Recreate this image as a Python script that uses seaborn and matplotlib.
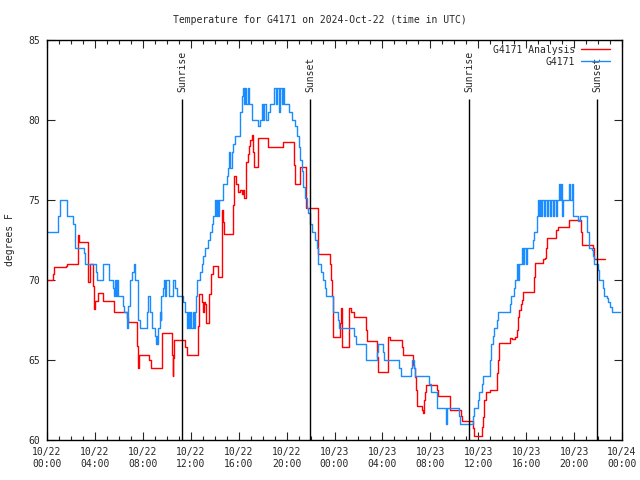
import numpy as np
import pandas as pd
import matplotlib
matplotlib.use('Agg')
import matplotlib.pyplot as plt
import seaborn as sns

# (hours since 10/22 00:00 UTC, degrees F) step points
obs_steps = [
    (0.0, 73), (0.95, 74), (1.05, 75), (1.65, 74), (2.2, 73.5), (2.3, 72.5), (2.35, 72), (3.05, 71.7),
    (3.15, 71), (4.06, 70.5), (4.2, 70), (4.7, 71), (5.15, 70), (5.54, 69.5), (5.62, 69), (5.7, 70),
    (5.8, 69), (5.85, 70), (5.9, 69), (6.37, 68.4), (6.45, 68), (6.68, 67), (6.75, 68.4), (6.93, 70),
    (7.12, 70.5), (7.29, 71), (7.38, 70), (7.57, 68.4), (7.62, 67.5), (7.73, 67),
    (8.32, 68), (8.45, 69), (8.6, 68), (8.74, 67), (9.02, 66.5), (9.1, 66), (9.15, 66.5), (9.2, 66),
    (9.29, 67), (9.43, 68), (9.48, 67.5), (9.52, 69), (9.65, 69.5), (9.77, 70), (9.85, 69), (9.9, 70),
    (10.21, 69), (10.55, 70), (10.68, 69.5), (10.82, 69), (11.33, 68.6), (11.52, 68), (11.66, 67),
    (11.75, 68), (11.85, 67), (11.95, 68), (12.05, 67), (12.16, 68), (12.25, 67), (12.36, 68), (12.42, 69),
    (12.49, 70), (12.77, 70.5), (12.91, 71), (13.05, 71.5), (13.2, 72), (13.47, 72.5), (13.6, 73),
    (13.74, 73.5), (13.88, 74), (14.0, 75), (14.08, 74), (14.16, 75), (14.25, 74), (14.35, 75),
    (14.72, 76), (15.0, 76.5), (15.14, 77), (15.2, 78), (15.28, 77), (15.42, 78), (15.55, 78.5),
    (15.69, 79), (16.11, 80.5), (16.25, 81.5), (16.35, 82), (16.45, 81), (16.55, 82), (16.65, 81),
    (16.75, 82), (16.85, 81), (17.08, 80), (17.58, 79.6), (17.78, 80), (17.92, 81), (18.05, 80),
    (18.15, 81), (18.3, 80), (18.47, 80.5), (18.61, 81), (18.97, 82), (19.1, 81), (19.2, 82),
    (19.35, 80.5), (19.45, 82), (19.6, 81), (19.7, 82), (19.8, 81), (20.17, 80.5), (20.45, 80),
    (20.67, 79.6), (20.87, 79), (21.0, 78.3), (21.12, 77.5), (21.26, 76.8), (21.4, 75.8), (21.54, 75.1),
    (21.68, 74.5), (21.82, 74.2), (21.96, 73.5), (22.1, 73), (22.37, 72.5), (22.5, 72), (22.65, 71),
    (22.85, 70.5), (23.0, 70), (23.2, 69.5), (23.29, 69),
    (23.84, 68), (24.32, 67.5), (24.4, 67), (25.63, 66.5), (25.79, 66), (26.63, 65), (27.57, 65.5),
    (27.66, 66), (28.07, 65.5), (28.16, 65), (29.41, 64.5), (29.52, 64), (30.36, 64.5), (30.44, 65),
    (30.63, 64.5), (30.72, 64), (31.92, 63.5), (32.03, 63), (32.53, 62.5), (32.58, 62), (33.28, 61),
    (33.36, 62), (34.42, 61.5), (34.47, 61),
    (35.59, 61.5), (35.67, 62), (36.0, 62.5), (36.09, 63), (36.28, 63.5), (36.37, 64), (36.98, 65),
    (37.06, 66), (37.26, 66.5), (37.34, 67), (37.53, 67.5), (37.62, 68), (38.65, 68.5), (38.73, 69),
    (39.01, 69.5), (39.07, 70), (39.2, 71), (39.29, 70), (39.4, 71), (39.68, 72), (39.76, 71),
    (39.85, 72), (39.96, 71), (40.04, 72), (40.6, 72.5), (40.68, 73), (40.88, 74), (40.96, 75),
    (41.05, 74), (41.15, 75), (41.25, 74), (41.35, 75), (41.45, 74), (41.6, 75), (41.75, 74),
    (41.85, 75), (42.0, 74), (42.1, 75), (42.2, 74), (42.3, 75), (42.45, 74), (42.55, 75), (42.7, 76),
    (42.8, 75), (42.9, 76), (43.0, 74), (43.1, 75), (43.6, 76), (43.7, 75), (43.8, 76), (43.93, 74),
    (44.35, 73.7), (44.49, 74), (45.1, 73), (45.27, 72), (45.46, 71.9), (45.6, 71.5), (45.69, 71),
    (45.97, 70.6), (46.1, 70), (46.44, 69.5), (46.52, 69), (46.72, 68.9), (46.86, 68.6), (47.0, 68.3),
    (47.14, 68), (47.8, 68),
]

ana_steps = [
    (0.0, 70), (0.53, 70.4), (0.61, 70.8), (1.56, 70.9), (1.64, 71), (2.56, 72.8), (2.7, 72.4),
    (3.4, 71), (3.45, 69.9), (3.55, 71), (3.87, 69.6), (3.95, 68.2), (4.0, 68.7), (4.23, 69.2),
    (4.7, 68.7), (5.62, 68.0), (6.65, 67.6), (6.73, 67.4), (7.48, 65.9), (7.57, 64.5), (7.65, 65.3),
    (8.54, 65.0), (8.65, 64.5), (9.57, 65.6), (9.63, 66.7), (10.41, 65.3), (10.49, 64.0), (10.55, 65.1),
    (10.63, 66.25), (11.52, 65.8), (11.66, 65.3), (12.58, 67.1), (12.66, 69.1), (12.9, 68.6), (13.0, 68.0),
    (13.1, 68.6), (13.2, 68.5), (13.27, 67.3), (13.55, 69.1), (13.66, 70.4), (13.83, 70.9), (14.25, 70.2),
    (14.6, 72.5), (14.63, 74.4), (14.72, 73.6), (14.8, 72.9), (15.55, 74.7), (15.64, 76.5), (15.8, 76.0),
    (15.97, 75.5), (16.1, 75.6), (16.25, 75.4), (16.39, 75.6), (16.47, 75.1), (16.61, 77.4), (16.75, 77.9),
    (16.86, 78.4), (16.94, 78.75), (17.08, 79.06), (17.22, 78.0), (17.3, 77.04), (17.58, 78.85),
    (18.47, 78.33), (19.73, 78.65), (20.62, 77.2), (20.7, 76.0), (21.12, 77.08), (21.59, 75.5),
    (21.65, 74.48), (22.59, 73.0), (22.65, 71.63), (23.62, 71.0), (23.7, 70.0), (23.75, 69.0),
    (23.84, 67.0), (23.9, 66.42), (24.46, 67.3), (24.54, 68.23), (24.6, 67.0), (24.65, 65.8),
    (25.21, 67.0), (25.24, 68.23), (25.4, 68.0), (25.63, 67.7), (26.63, 66.9), (26.68, 66.2),
    (27.57, 65.2), (27.66, 64.23), (28.44, 65.4), (28.49, 66.42), (28.63, 66.25), (29.6, 65.8),
    (29.69, 65.3), (30.52, 64.7), (30.65, 64.5), (30.72, 63.96), (30.8, 63.1), (30.86, 62.1),
    (31.28, 61.9), (31.36, 61.67), (31.47, 62.5), (31.55, 63.0), (31.61, 63.44), (32.58, 63.1),
    (32.67, 62.75), (33.65, 61.9), (34.56, 61.5), (34.67, 61.2), (35.59, 60.73), (35.67, 60.25),
    (36.28, 60.83), (36.42, 61.46), (36.5, 62.5), (36.62, 63.0), (36.98, 63.125), (37.53, 64.17),
    (37.62, 65.0), (37.7, 65.6), (37.76, 66.04), (38.65, 66.35), (38.8, 66.3), (39.07, 66.46),
    (39.2, 66.9), (39.29, 67.7), (39.4, 68.1), (39.57, 68.5), (39.65, 68.75), (39.71, 69.27),
    (40.65, 70.2), (40.74, 71.04), (41.43, 71.29), (41.6, 71.35), (41.65, 72.0), (41.71, 72.6),
    (42.46, 73.1), (42.63, 73.3), (43.6, 73.75), (44.55, 73.0), (44.63, 72.2), (45.6, 72.0),
    (45.69, 71.3), (46.58, 71.3),
]

sun_hours = [11.3, 21.95, 35.25, 45.94]
sun_labels = ['Sunrise', 'Sunset', 'Sunrise', 'Sunset']

tick_hours = list(range(0, 49, 4))
tick_labels = ['10/22\n00:00', '10/22\n04:00', '10/22\n08:00', '10/22\n12:00', '10/22\n16:00',
               '10/22\n20:00', '10/23\n00:00', '10/23\n04:00', '10/23\n08:00', '10/23\n12:00',
               '10/23\n16:00', '10/23\n20:00', '10/24\n00:00']

sns.set_style('ticks')
plt.rcParams['font.family'] = ['DejaVu Sans Mono']
plt.rcParams['font.size'] = 7

obs = pd.DataFrame(obs_steps, columns=['hour', 'temp'])
ana = pd.DataFrame(ana_steps, columns=['hour', 'temp'])

fig = plt.figure(figsize=(6.4, 4.8), dpi=100)
ax = fig.add_axes([47 / 640, 40 / 480, 575 / 640, 400 / 480])

sns.lineplot(data=ana, x='hour', y='temp', ax=ax, color='#ff0000', lw=1.0,
             drawstyle='steps-post', estimator=None, sort=False, label='G4171 Analysis')
sns.lineplot(data=obs, x='hour', y='temp', ax=ax, color='#1a8cff', lw=1.0,
             drawstyle='steps-post', estimator=None, sort=False, label='G4171')

for h, lab in zip(sun_hours, sun_labels):
    ax.vlines(h, 60, 81.3, color='black', lw=1.0)
    ax.text(h, 81.75, lab, rotation=90, ha='center', va='bottom', fontsize=7)

ax.set_xlim(0, 48)
ax.set_ylim(60, 85)
ax.set_xticks(tick_hours)
ax.set_xticklabels(tick_labels)
ax.set_xticks(range(0, 49), minor=True)
ax.set_yticks([60, 65, 70, 75, 80, 85])
ax.tick_params(axis='both', which='both', direction='in', top=True, right=True, labelsize=7)
ax.tick_params(axis='both', which='major', length=6, width=0.8, pad=5)
ax.tick_params(axis='x', which='minor', length=3, width=0.8)
for s in ax.spines.values():
    s.set_linewidth(1.0)
    s.set_color('black')

ax.set_xlabel('')
ax.set_ylabel('degrees F', fontsize=7)
ax.yaxis.set_label_coords(-0.055, 0.5)

leg = ax.legend(loc='upper right', bbox_to_anchor=(0.988, 1.0), frameon=False, markerfirst=False,
                fontsize=7, handlelength=3.0, borderaxespad=0.1, labelspacing=0.2, handletextpad=0.6)
for t in leg.get_texts():
    t.set_ha('right')

fig.text(0.5, 1 - 20 / 480, 'Temperature for G4171 on 2024-Oct-22 (time in UTC)',
         ha='center', va='center', fontsize=7)

fig.savefig('out.png', dpi=100)
